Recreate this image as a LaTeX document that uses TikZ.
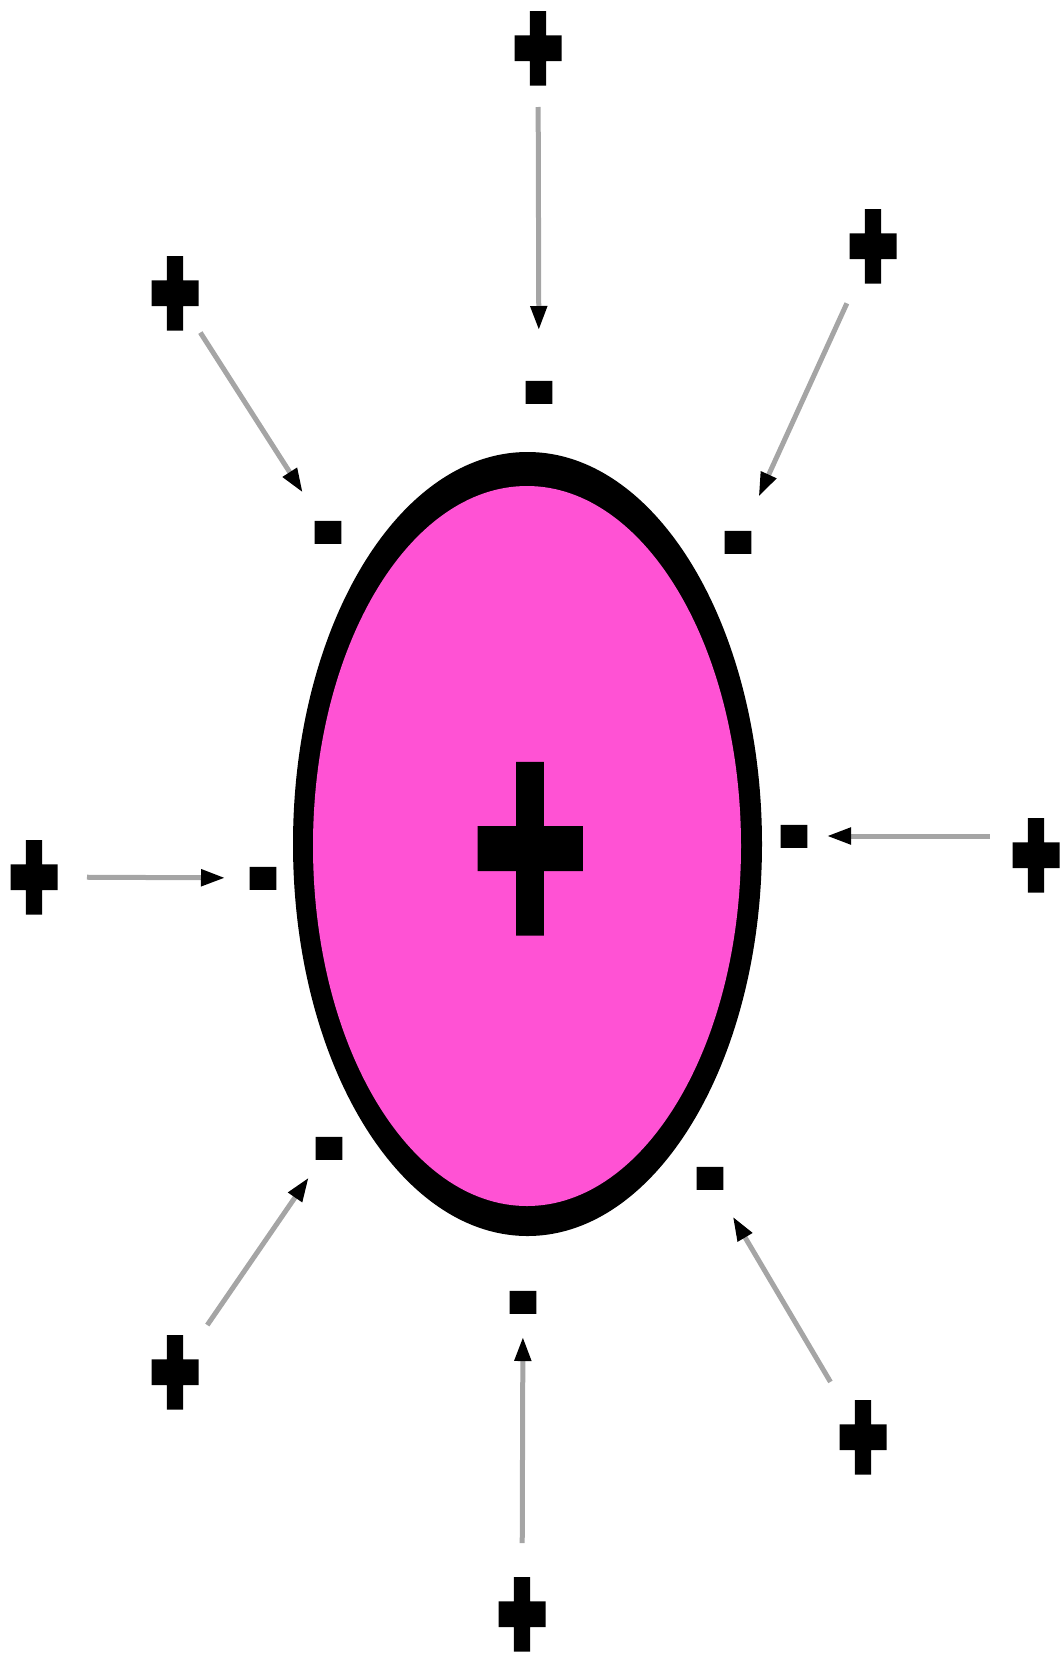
\documentclass[tikz,border=0pt]{standalone}
\usepackage{fontspec}
\usepackage{graphicx}
\usetikzlibrary{arrows.meta}
\newfontfamily\signfont[FakeBold=10]{Liberation Sans Bold}
\newfontfamily\corefont[FakeBold=3]{Liberation Sans Bold}
\definecolor{CellPink}{RGB}{255, 82, 212}
\definecolor{PullGray}{RGB}{165, 165, 165}
\newcommand{\tallsign}[2]{\scalebox{1}[#1]{#2}}
\tikzset{
  possign/.style={inner sep=0pt, text height=82pt, text depth=0pt,
    font=\signfont\fontsize{78}{78}\selectfont},
  negsign/.style={inner sep=0pt, text height=55pt, text depth=0pt,
    font=\signfont\fontsize{75}{75}\selectfont},
  coresign/.style={inner sep=0pt, text height=214pt, text depth=0pt,
    font=\corefont\fontsize{198}{198}\selectfont},
  pull/.style 2 args={draw=PullGray, line width=5pt, shorten <=#1pt, shorten >=#2pt,
    -{Triangle[length=24pt, width=16pt, black]}},
}

\begin{document}
\begin{tikzpicture}[x=1pt, y=-1pt]
  \useasboundingbox (0,0) rectangle (1061,1657);
  % the cell
  \fill[black] (527.5,844) ellipse [x radius=234.5, y radius=392];
  \fill[CellPink] (527,846) ellipse [x radius=214, y radius=360];
  \node[coresign] (core) at (530,849) {\tallsign{1.63}{+}};

  % outer charges
  \node[possign] (p1) at (538,48) {\tallsign{1.57}{+}};
  \node[possign] (p2) at (175,293) {\tallsign{1.57}{+}};
  \node[possign] (p3) at (873,246) {\tallsign{1.57}{+}};
  \node[possign] (p4) at (34,877) {\tallsign{1.57}{+}};
  \node[possign] (p5) at (1036,855) {\tallsign{1.57}{+}};
  \node[possign] (p6) at (175,1372) {\tallsign{1.57}{+}};
  \node[possign] (p7) at (522,1614) {\tallsign{1.57}{+}};
  \node[possign] (p8) at (863,1437) {\tallsign{1.57}{+}};

  % induced charges
  \node[negsign] (m1) at (539,392) {\tallsign{1.4}{-}};
  \node[negsign] (m2) at (328,532) {\tallsign{1.4}{-}};
  \node[negsign] (m3) at (738,542) {\tallsign{1.4}{-}};
  \node[negsign] (m4) at (263,878) {\tallsign{1.4}{-}};
  \node[negsign] (m5) at (794,836) {\tallsign{1.4}{-}};
  \node[negsign] (m6) at (329,1148) {\tallsign{1.4}{-}};
  \node[negsign] (m7) at (523,1302) {\tallsign{1.4}{-}};
  \node[negsign] (m8) at (710,1178) {\tallsign{1.4}{-}};

  \draw[pull={59}{62}] (p1.center) -- (m1.center);
  \draw[pull={47}{47}] (p2.center) -- (m2.center);
  \draw[pull={63}{50}] (p3.center) -- (m3.center);
  \draw[pull={53}{38}] (p4.center) -- (m4.center);
  \draw[pull={46}{33}] (p5 |- m5) -- (m5.center);
  \draw[pull={57}{36}] (p6.center) -- (m6.center);
  \draw[pull={71}{35}] (p7.center) -- (m7.center);
  \draw[pull={64}{45}] (p8.center) -- (m8.center);
\end{tikzpicture}
\end{document}
